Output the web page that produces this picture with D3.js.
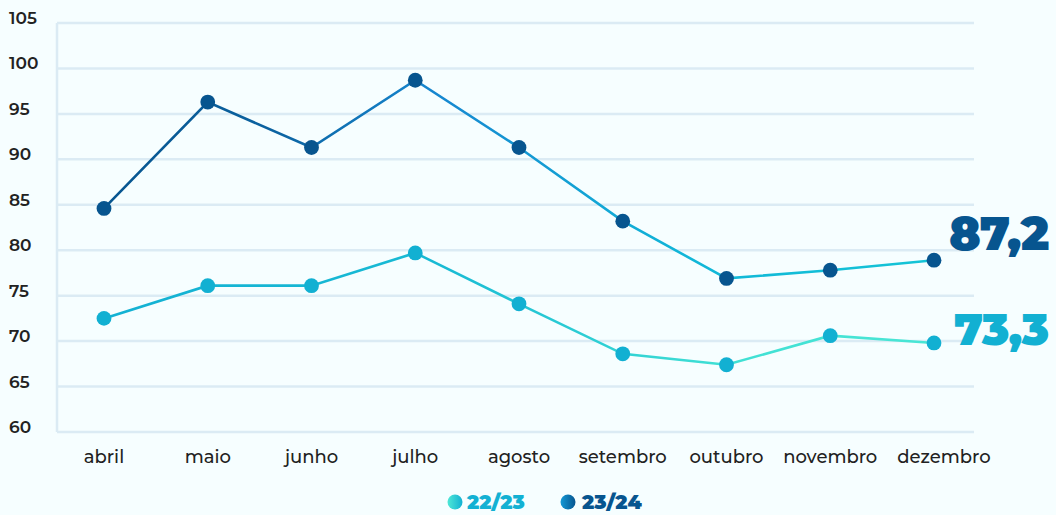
<!DOCTYPE html>
<html><head><meta charset="utf-8">
<script src="https://cdn.jsdelivr.net/npm/d3@7"></script>
<style>
html,body{margin:0;padding:0;background:#f6feff;}
svg{display:block;font-family:"Montserrat","Lato","Open Sans",sans-serif;}
</style></head>
<body>
<svg id="c" width="1056" height="515"></svg>
<script>
const categories = ["abril","maio","junho","julho","agosto","setembro","outubro","novembro","dezembro"];
const series2223 = [72.5, 76.1, 76.1, 79.7, 74.1, 68.6, 67.4, 70.6, 69.8];
const series2324 = [84.6, 96.3, 91.3, 98.7, 91.3, 83.2, 76.9, 77.8, 78.9];
const yTicks = [60,65,70,75,80,85,90,95,100,105];
const seriesNames = ["22/23","23/24"];
const finalLabels = ["73,3","87,2"];

const svg = d3.select("#c");
const x = d3.scalePoint().domain(categories).range([104, 934]);
const y = d3.scaleLinear().domain([60,105]).range([432, 23]);
const left = 57, right = 974;

const defs = svg.append("defs");
function grad(id, stops, x1, x2) {
  const g = defs.append("linearGradient").attr("id", id);
  if (x1 !== undefined) g.attr("gradientUnits","userSpaceOnUse").attr("x1",x1).attr("x2",x2).attr("y1",0).attr("y2",0);
  stops.forEach(([o,c]) => g.append("stop").attr("offset", o).attr("stop-color", c));
}
grad("gDark", [["0%","#07558f"],["20%","#0b62a0"],["40%","#1687d0"],["70%","#11b6d8"],["100%","#14c4d6"]], 104, 934);
grad("gLight", [["0%","#13b1d3"],["40%","#18bad4"],["75%","#40e0d4"],["100%","#4ae6d5"]], 104, 934);
grad("lgLight", [["0%","#4ee8d6"],["100%","#13b1d3"]]);
grad("lgDark", [["0%","#1499d6"],["100%","#07558f"]]);

// gridlines
svg.append("g").selectAll("line").data(yTicks).join("line")
  .attr("x1", left).attr("x2", right)
  .attr("y1", d => y(d)).attr("y2", d => y(d))
  .attr("stroke", "#dbebf4").attr("stroke-width", 2.5);
svg.append("line").attr("x1", left).attr("x2", left).attr("y1", y(105)).attr("y2", y(60))
  .attr("stroke", "#dbebf4").attr("stroke-width", 2.5);

// y labels
svg.append("g").selectAll("text").data(yTicks).join("text")
  .attr("x", 9).attr("y", d => y(d) - 5).attr("dy", "0.35em")
  .attr("font-size", 17).attr("font-weight", 600).attr("fill", "#222")
  .text(d => d);

// x labels
svg.append("g").selectAll("text").data(categories).join("text")
  .attr("x", d => x(d)).attr("dx", (d,i) => i === categories.length - 1 ? 10 : 0)
  .attr("y", 463).attr("text-anchor","middle")
  .attr("font-size", 18).attr("font-weight", 500).attr("fill", "#222")
  .text(d => d);

const line = d3.line().x((d,i) => x(categories[i])).y(d => y(d));

function drawSeries(data, stroke, dotColor) {
  svg.append("path").datum(data).attr("d", line).attr("fill","none")
    .attr("stroke", stroke).attr("stroke-width", 2.6);
  svg.append("g").selectAll("circle").data(data).join("circle")
    .attr("cx", (d,i) => x(categories[i])).attr("cy", d => y(d)).attr("r", 7.4)
    .attr("fill", dotColor);
}
drawSeries(series2223, "url(#gLight)", "#12b0d2");
drawSeries(series2324, "url(#gDark)", "#07558f");

// end labels
svg.append("text").attr("x", 949).attr("y", 250).attr("font-size", 47).attr("font-weight", 900)
  .attr("fill", "#07558f").attr("letter-spacing", -1).text(finalLabels[1]);
svg.append("text").attr("x", 954).attr("y", 345).attr("font-size", 45).attr("font-weight", 900)
  .attr("fill", "#12b0d2").attr("letter-spacing", -1).text(finalLabels[0]);

// legend
const leg = svg.append("g");
leg.append("circle").attr("cx", 455).attr("cy", 502).attr("r", 7.5).attr("fill","url(#lgLight)");
leg.append("text").attr("x", 467).attr("y", 509).attr("font-size", 20).attr("font-weight", 900)
  .attr("fill","#13b1d3").text(seriesNames[0]);
leg.append("circle").attr("cx", 568).attr("cy", 502).attr("r", 7.5).attr("fill","url(#lgDark)");
leg.append("text").attr("x", 582).attr("y", 509).attr("font-size", 20).attr("font-weight", 900)
  .attr("fill","#07558f").text(seriesNames[1]);
</script>
</body></html>
